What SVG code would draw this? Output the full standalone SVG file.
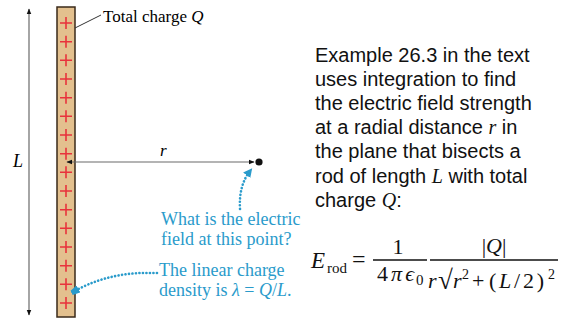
<svg xmlns="http://www.w3.org/2000/svg" width="566" height="320" viewBox="0 0 566 320">
<style>
.serif{font-family:"Liberation Serif","Times New Roman",serif}
.sans{font-family:"Liberation Sans",Arial,sans-serif}
.it{font-style:italic}
.blue{fill:#2a9bcb}
.dim{stroke:#6a6a6a;stroke-width:1.2;fill:none}
.dots{stroke:#2a9bcb;stroke-width:2.6;fill:none;stroke-dasharray:0.1 3.4;stroke-linecap:round}
.plus{stroke:#e8323c;stroke-width:1.6}
</style>
<defs>
<marker id="blk" viewBox="0 0 10 10" refX="9" refY="5" markerWidth="6" markerHeight="6" orient="auto-start-reverse" markerUnits="userSpaceOnUse">
<path d="M0,1 L10,5 L0,9 Z" fill="#111"/>
</marker>
<marker id="blu" viewBox="0 0 10 10" refX="6" refY="5" markerWidth="9" markerHeight="9" orient="auto" markerUnits="userSpaceOnUse">
<path d="M0,0 L10,5 L0,10 Z" fill="#2a9bcb"/>
</marker>
<marker id="blsq" viewBox="0 0 10 10" refX="5" refY="5" markerWidth="8" markerHeight="8" orient="auto" markerUnits="userSpaceOnUse">
<path d="M0,0 L10,2 L10,8 L0,10 Z" fill="#2a9bcb"/>
</marker>
</defs>

<g id="rod">
<rect x="57" y="7" width="18" height="310" fill="#e3c08e" stroke="#3a2a1a" stroke-width="1.5"/>
<path class="plus" d="M60,23h12M66,17v12 M60,41.7h12M66,35.7v12 M60,60.3h12M66,54.3v12 M60,79h12M66,73v12 M60,97.7h12M66,91.7v12 M60,116.3h12M66,110.3v12 M60,135h12M66,129v12 M60,153.7h12M66,147.7v12 M60,172.3h12M66,166.3v12 M60,191h12M66,185v12 M60,209.7h12M66,203.7v12 M60,228.3h12M66,222.3v12 M60,247h12M66,241v12 M60,265.7h12M66,259.7v12 M60,284.3h12M66,278.3v12 M60,303h12M66,297v12"/>
</g>

<g id="connectors">
<line class="dim" x1="29" y1="9" x2="29" y2="315" marker-start="url(#blk)" marker-end="url(#blk)"/>
<line class="dim" x1="67" y1="162" x2="254" y2="162" marker-start="url(#blk)" marker-end="url(#blk)"/>
<line x1="75" y1="28" x2="101" y2="15" stroke="#333" stroke-width="1"/>
<path class="dots" d="M240,209 C239,192 243,180 250,171" marker-end="url(#blu)"/>
<path class="dots" d="M157,273 L140,273 C116,274 92,281 75,291" marker-end="url(#blsq)"/>
</g>

<g id="point"><circle cx="259" cy="162" r="3.6" fill="#111"/></g>

<g id="labels">
<text class="serif" x="103" y="22" font-size="17">Total charge <tspan class="it">Q</tspan></text>
<text class="serif it" x="13" y="167" font-size="18">L</text>
<text class="serif it" x="160" y="156" font-size="17">r</text>
<text class="serif blue" x="161" y="225" font-size="18">What is the electric</text>
<text class="serif blue" x="161" y="245" font-size="18">field at this point?</text>
<text class="serif blue" x="159" y="276" font-size="18">The linear charge</text>
<text class="serif blue" x="159" y="296" font-size="18">density is <tspan class="it">λ</tspan> = <tspan class="it">Q</tspan>/<tspan class="it">L</tspan>.</text>
</g>

<g id="description" class="sans" font-size="20" fill="#111">
<text x="315" y="62">Example 26.3 in the text</text>
<text x="315" y="86">uses integration to find</text>
<text x="315" y="110">the electric field strength</text>
<text x="315" y="134">at a radial distance <tspan class="serif it">r</tspan> in</text>
<text x="315" y="158">the plane that bisects a</text>
<text x="315" y="183">rod of length <tspan class="serif it">L</tspan> with total</text>
<text x="315" y="207">charge <tspan class="serif it">Q</tspan>:</text>
</g>

<g id="formula" class="serif" fill="#111">
<text x="311" y="268" font-size="23" class="it">E</text>
<text x="327" y="273" font-size="15">rod</text>
<text x="352" y="267" font-size="24">=</text>
<line x1="373" y1="260" x2="427" y2="260" stroke="#111" stroke-width="1.3"/>
<text x="398" y="254" font-size="22" text-anchor="middle">1</text>
<text x="377" y="281" font-size="22" textLength="37" lengthAdjust="spacing">4<tspan class="it">πϵ</tspan></text>
<text x="416" y="285" font-size="15">0</text>
<line x1="430" y1="260" x2="558" y2="260" stroke="#111" stroke-width="1.3"/>
<text x="494" y="253" font-size="22" text-anchor="middle">|<tspan class="it">Q</tspan>|</text>
<text x="428" y="288" font-size="22" class="it">r</text>
<text x="438" y="289" font-size="27">√</text>
<text x="453" y="288" font-size="22" class="it">r</text>
<text x="462" y="279" font-size="14">2</text>
<text x="472" y="288" font-size="22">+</text>
<text x="489" y="288" font-size="22" textLength="55" lengthAdjust="spacing">(<tspan class="it">L</tspan>/2)</text>
<text x="548" y="279" font-size="14">2</text>
</g>
</svg>
